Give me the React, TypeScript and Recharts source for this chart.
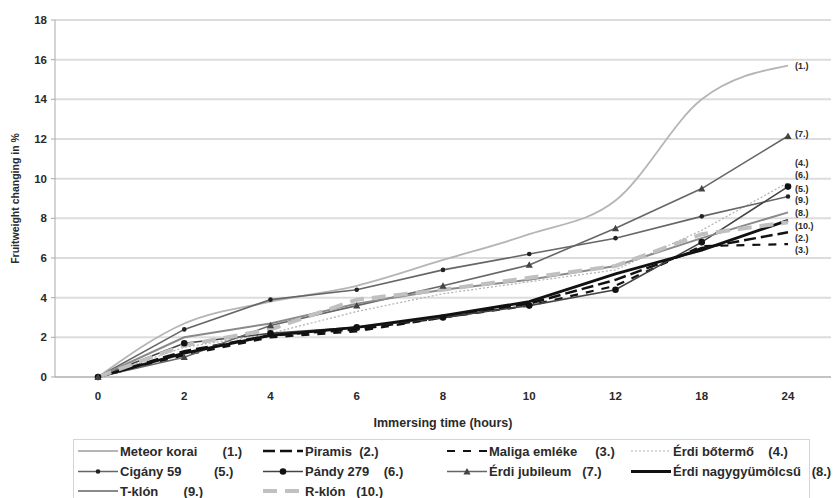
import React from 'react';
import { LineChart, Line, XAxis, YAxis, CartesianGrid, ReferenceDot, Label } from 'recharts';

// Immersion time points (hours), shown as evenly spaced categories
const hours = ['0', '2', '4', '6', '8', '10', '12', '18', '24'];

// Fruit weight change (%) per cultivar
const meteorKorai = [0, 2.7, 3.8, 4.6, 5.9, 7.2, 8.9, 14.0, 15.7];
const piramis = [0, 1.3, 2.1, 2.4, 3.0, 3.7, 4.9, 6.5, 7.3];
const maligaEmleke = [0, 1.1, 2.0, 2.3, 3.0, 3.6, 4.6, 6.6, 6.7];
const erdiBotermo = [0, 1.5, 2.2, 3.3, 4.2, 4.8, 5.4, 7.4, 9.8];
const cigany59 = [0, 2.4, 3.9, 4.4, 5.4, 6.2, 7.0, 8.1, 9.1];
const pandy279 = [0, 1.7, 2.2, 2.5, 3.0, 3.6, 4.4, 6.8, 9.6];
const erdiJubileum = [0, 1.0, 2.6, 3.6, 4.6, 5.65, 7.5, 9.5, 12.15];
const erdiNagygyumolcsu = [0, 1.2, 2.1, 2.5, 3.1, 3.8, 5.2, 6.4, 7.9];
const tKlon = [0, 2.0, 2.7, 3.7, 4.4, 4.9, 5.6, 7.0, 8.3];
const rKlon = [0, 1.6, 2.4, 3.9, 4.4, 5.0, 5.6, 7.2, 7.8];

const seriesNames = [
  'Meteor korai', 'Piramis', 'Maliga emléke', 'Érdi bőtermő', 'Cigány 59',
  'Pándy 279', 'Érdi jubileum', 'Érdi nagygyümölcsű', 'T-klón', 'R-klón',
];
const seriesTags = ['(1.)', '(2.)', '(3.)', '(4.)', '(5.)', '(6.)', '(7.)', '(8.)', '(9.)', '(10.)'];
// Level (in %) where each end tag sits in the stacked column at the right
const tagLevels = [15.7, 7.0, 6.4, 10.8, 9.5, 10.2, 12.25, 8.25, 8.9, 7.6];
const yTicks = [0, 2, 4, 6, 8, 10, 12, 14, 16, 18];

const seriesValues = [
  meteorKorai, piramis, maligaEmleke, erdiBotermo, cigany59,
  pandy279, erdiJubileum, erdiNagygyumolcsu, tKlon, rKlon,
];

const data = hours.map((h, i) => {
  const row: Record<string, string | number> = { hour: h };
  seriesValues.forEach((vals, s) => {
    row['s' + (s + 1)] = vals[i];
  });
  return row;
});

type Marker = 'none' | 'small' | 'big' | 'triangle';
interface Style {
  stroke: string;
  width: number;
  dash?: string;
  marker: Marker;
  curve: 'linear' | 'monotone';
}

const styles: Style[] = [
  { stroke: '#b5b5b5', width: 1.8, marker: 'none', curve: 'monotone' },
  { stroke: '#111', width: 2.5, dash: '12 5', marker: 'none', curve: 'linear' },
  { stroke: '#111', width: 2.2, dash: '8 8', marker: 'none', curve: 'linear' },
  { stroke: '#b0b0b0', width: 1.2, dash: '2 2', marker: 'none', curve: 'linear' },
  { stroke: '#666', width: 1.6, marker: 'small', curve: 'linear' },
  { stroke: '#444', width: 1.6, marker: 'big', curve: 'linear' },
  { stroke: '#666', width: 1.6, marker: 'triangle', curve: 'linear' },
  { stroke: '#111', width: 2.8, marker: 'none', curve: 'linear' },
  { stroke: '#8a8a8a', width: 2, marker: 'none', curve: 'linear' },
  { stroke: '#c0c0c0', width: 4, dash: '14 8', marker: 'none', curve: 'linear' },
];

const FONT = '"Liberation Sans", Arial, sans-serif';
const TEXT = '#2a2a2a';

function markerShape(kind: Marker, cx: number, cy: number, key?: string | number) {
  if (kind === 'small') return <circle key={key} cx={cx} cy={cy} r={2.3} fill="#222" />;
  if (kind === 'big') return <circle key={key} cx={cx} cy={cy} r={3.3} fill="#111" />;
  if (kind === 'triangle') {
    const s = 3.6;
    return (
      <polygon
        key={key}
        points={`${cx},${cy - s} ${cx - s},${cy + s * 0.8} ${cx + s},${cy + s * 0.8}`}
        fill="#444"
      />
    );
  }
  return <g key={key} />;
}

const makeDot = (kind: Marker) => (props: any) => {
  const { cx, cy, index } = props;
  if (kind === 'none' || cx == null || cy == null) return <g key={index} />;
  return markerShape(kind, cx, cy, index);
};

const EmptyTick = () => <g />;

const YTitle = (props: any) => {
  const vb = props.viewBox;
  const x = 15;
  const y = vb.y + vb.height / 2;
  return (
    <text
      x={x}
      y={y}
      transform={`rotate(-90 ${x} ${y})`}
      textAnchor="middle"
      dominantBaseline="central"
      fontFamily={FONT}
      fontWeight="bold"
      fontSize={10.5}
      fill={TEXT}
    >
      Fruitweight changing in %
    </text>
  );
};

// Legend grid: four columns, entries filled row by row
const legendColumns = [77, 262, 446, 630];
const legendRows = [11, 31.5, 51];
const legendLabels = [
  'Meteor korai       (1.)', 'Piramis  (2.)', 'Maliga emléke     (3.)', 'Érdi bőtermő    (4.)',
  'Cigány 59         (5.)', 'Pándy 279    (6.)', 'Érdi jubileum   (7.)', 'Érdi nagygyümölcsű   (8.)',
  'T-klón       (9.)', 'R-klón   (10.)',
];

const ChartLegend = () => (
  <div
    style={{
      position: 'absolute',
      left: 73,
      top: 439,
      width: 737,
      height: 80,
      border: '1px solid #d4d4d4',
      boxSizing: 'border-box',
    }}
  >
    <svg width={760} height={60} style={{ overflow: 'visible', position: 'absolute', left: 0, top: 0 }}>
      {styles.map((st, s) => {
        const col = s % 4;
        const row = Math.floor(s / 4);
        const x0 = legendColumns[col] - 73;
        const y0 = legendRows[row];
        return (
          <g key={s}>
            <line
              x1={x0}
              x2={x0 + 40}
              y1={y0}
              y2={y0}
              stroke={st.stroke}
              strokeWidth={st.width}
              strokeDasharray={st.dash}
            />
            {markerShape(st.marker, x0 + 20, y0)}
            <text
              x={x0 + 42}
              y={y0}
              dominantBaseline="central"
              fontFamily={FONT}
              fontWeight="bold"
              fontSize={13}
              fill={TEXT}
              style={{ whiteSpace: 'pre' }}
            >
              {legendLabels[s]}
            </text>
          </g>
        );
      })}
    </svg>
  </div>
);

export default function App() {
  return (
    <div style={{ position: 'absolute', left: 0, top: 0, width: 837, height: 498, background: '#fff' }}>
      <LineChart width={837} height={498} data={data} margin={{ top: 20, right: 6, left: 0, bottom: 69 }}>
        <CartesianGrid vertical={false} stroke="#dcdcdc" strokeWidth={2} />
        <XAxis
          xAxisId="bounds"
          type="number"
          domain={[0, 9]}
          ticks={[0, 1, 2, 3, 4, 5, 6, 7, 8, 9]}
          height={0}
          axisLine={false}
          tickLine={{ stroke: '#aaa' }}
          tickSize={4}
          tick={EmptyTick}
        />
        <XAxis
          dataKey="hour"
          height={52}
          padding={{ left: 43, right: 43 }}
          axisLine={{ stroke: '#aaa' }}
          tickLine={false}
          tickSize={4}
          tickMargin={11}
          tick={{ fontFamily: FONT, fontWeight: 'bold', fontSize: 11.5, fill: TEXT }}
        >
          <Label
            value="Immersing time (hours)"
            position="insideBottom"
            offset={2}
            style={{ fontFamily: FONT, fontWeight: 'bold', fontSize: 12.5, fill: TEXT }}
          />
        </XAxis>
        <YAxis
          domain={[0, 18]}
          ticks={yTicks}
          width={55}
          axisLine={{ stroke: '#aaa' }}
          tickLine={{ stroke: '#aaa' }}
          tickSize={4}
          tickMargin={4}
          tick={{ fontFamily: FONT, fontWeight: 'bold', fontSize: 11.5, fill: TEXT }}
          label={<YTitle />}
        />
        <YAxis
          yAxisId="frame"
          orientation="right"
          domain={[0, 18]}
          width={0}
          tick={false}
          tickLine={false}
          axisLine={{ stroke: '#c8c8c8' }}
        />
        {styles.map((st, s) => (
          <Line
            key={s}
            dataKey={'s' + (s + 1)}
            name={seriesNames[s]}
            type={st.curve}
            stroke={st.stroke}
            strokeWidth={st.width}
            strokeDasharray={st.dash}
            dot={makeDot(st.marker)}
            activeDot={false}
            isAnimationActive={false}
          />
        ))}
        {seriesTags.map((tag, s) => (
          <ReferenceDot
            key={tag}
            x="24"
            y={tagLevels[s]}
            ifOverflow="visible"
            shape={(p: any) => (
              <text
                x={p.cx + 7}
                y={p.cy}
                dominantBaseline="central"
                fontFamily={FONT}
                fontWeight="bold"
                fontSize={9}
                fill={TEXT}
              >
                {tag}
              </text>
            )}
          />
        ))}
      </LineChart>
      <ChartLegend />
    </div>
  );
}
